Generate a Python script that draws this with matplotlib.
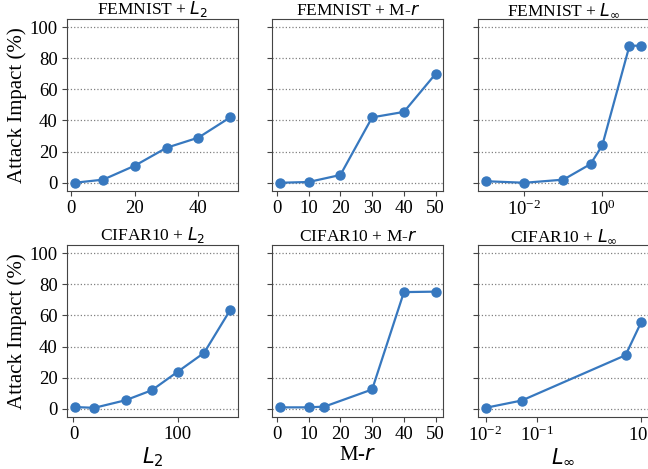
import numpy as np
import matplotlib
matplotlib.use('Agg')
import matplotlib.pyplot as plt

plt.rcParams['font.family'] = ['Liberation Serif', 'DejaVu Serif']
plt.rcParams['mathtext.fontset'] = 'dejavusans'

# dados
fem_l2_x = [1, 10, 20, 30, 40, 50]
fem_l2_y = [0, 2, 11, 22.5, 29, 42]
fem_mr_x = [1, 10, 20, 30, 40, 50]
fem_mr_y = [0, 0.5, 5, 42, 45.5, 70]
fem_linf_x = [0.001, 0.01, 0.1, 0.5, 1, 5, 10]
fem_linf_y = [1, 0, 2, 12, 24, 88, 88]

cif_l2_x = [1, 20, 50, 75, 100, 125, 150]
cif_l2_y = [1.2, 0.7, 5.6, 12, 24, 36, 63.5]
cif_mr_x = [1, 10, 15, 30, 40, 50]
cif_mr_y = [1, 1, 1.5, 12.5, 75, 75.3]
cif_linf_x = [0.01, 0.05, 5, 10]
cif_linf_y = [0.7, 5.4, 34.5, 55.7]

mr_ticks = [0, 10, 20, 30, 40, 50]

titulos = [['FEMNIST + $L_2$', 'FEMNIST + M-$r$', r'FEMNIST + $L_\infty$'],
           ['CIFAR10 + $L_2$', 'CIFAR10 + M-$r$', r'CIFAR10 + $L_\infty$']]
xlabels = ['$L_2$', 'M-$r$', r'$L_\infty$']

dados = [[(fem_l2_x, fem_l2_y), (fem_mr_x, fem_mr_y), (fem_linf_x, fem_linf_y)],
         [(cif_l2_x, cif_l2_y), (cif_mr_x, cif_mr_y), (cif_linf_x, cif_linf_y)]]

cor = '#3778bf'

fig, axes = plt.subplots(2, 3, figsize=(6.48, 4.69), dpi=100)
fig.subplots_adjust(left=0.103, right=1.0015, bottom=0.1115, top=0.959,
                    wspace=0.2, hspace=0.32)

for i in range(2):
    for j in range(3):
        ax = axes[i, j]
        x, y = dados[i][j]
        ax.plot(x, y, '-o', color=cor, linewidth=1.6, markersize=6.5)
        if j == 1:
            ax.set_xticks(mr_ticks)
        if j == 2:
            ax.set_xscale('log')
            ax.xaxis.set_minor_locator(matplotlib.ticker.NullLocator())
            if i == 0:
                ax.set_xticks([1e-2, 1e0])
            else:
                ax.set_xticks([1e-2, 1e-1, 1e1])
        ax.set_ylim(-5, 105)
        ax.set_yticks([0, 20, 40, 60, 80, 100])
        ax.yaxis.grid(True, linestyle=':', color='gray', linewidth=0.9)
        ax.set_axisbelow(True)
        ax.set_title(titulos[i][j], fontsize=12.5, pad=3)
        ax.tick_params(labelsize=13.5, length=3.5, pad=3, color='#444444')
        for s in ax.spines.values():
            s.set_color('#444444')
        if j == 0:
            ax.set_ylabel('Attack Impact (%)', fontsize=15, labelpad=2)
        else:
            ax.set_yticklabels([])
        if i == 1:
            ax.set_xlabel(xlabels[j], fontsize=15, labelpad=2)

plt.savefig('out.png', dpi=100)
